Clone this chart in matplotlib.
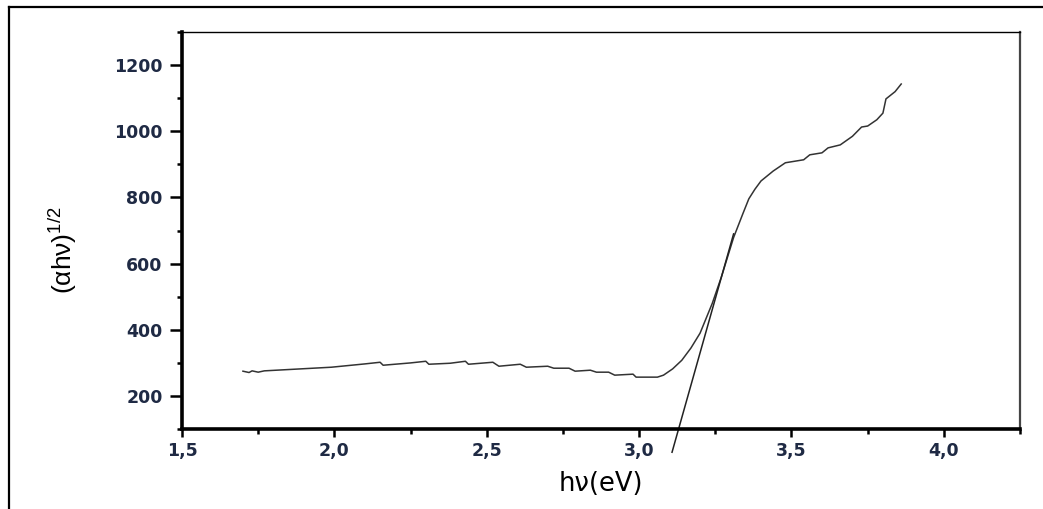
import matplotlib
matplotlib.use('Agg')
import matplotlib.pyplot as plt
from matplotlib.lines import Line2D
from matplotlib.ticker import MultipleLocator, FuncFormatter

# curve: photon energy (eV) vs (alpha*h*nu)^1/2
energy = [1.70, 1.72, 1.73, 1.75, 1.77, 1.85, 1.99, 2.10, 2.15, 2.16, 2.25, 2.30, 2.31,
          2.38, 2.43, 2.44, 2.52, 2.54, 2.61, 2.63, 2.70, 2.72, 2.77, 2.79, 2.84, 2.86,
          2.90, 2.92, 2.98, 2.99, 3.06, 3.08, 3.11, 3.14, 3.17, 3.20, 3.24, 3.27, 3.31,
          3.34, 3.36, 3.38, 3.40, 3.44, 3.48, 3.54, 3.56, 3.60, 3.62, 3.66, 3.70, 3.73,
          3.75, 3.78, 3.80, 3.81, 3.84, 3.86]
ahv = [275, 271, 276, 272, 276, 280, 287, 297, 302, 293, 300, 305, 296,
       299, 305, 296, 302, 290, 296, 287, 290, 284, 284, 275, 278, 272,
       272, 263, 266, 257, 257, 263, 282, 308, 345, 390, 480, 560, 679,
       750, 796, 825, 850, 880, 905, 914, 929, 935, 950, 959, 985, 1013,
       1016, 1035, 1055, 1098, 1120, 1143]

# linear extrapolation line (band gap fit)
fit_x = [3.108, 3.31]
fit_y = [30, 690]

plt.rcParams['mathtext.fontset'] = 'custom'
plt.rcParams['mathtext.rm'] = 'Liberation Sans'

fig = plt.figure(figsize=(10.43, 5.09), dpi=100)
ax = fig.add_axes([0.1745, 0.157, 0.8035, 0.78])

ax.plot(energy, ahv, color='#333333', lw=1.1)
ax.plot(fit_x, fit_y, color='#222222', lw=1.1, clip_on=False)

ax.set_xlim(1.5, 4.25)
ax.set_ylim(100, 1300)
ax.xaxis.set_major_locator(MultipleLocator(0.5))
ax.xaxis.set_minor_locator(MultipleLocator(0.25))
ax.yaxis.set_major_locator(MultipleLocator(200))
ax.yaxis.set_minor_locator(MultipleLocator(100))
ax.xaxis.set_major_formatter(FuncFormatter(lambda v, p: ('%.1f' % v).replace('.', ',')))

for s in ['left', 'bottom']:
    ax.spines[s].set_linewidth(2.6)
ax.spines['top'].set_linewidth(1.0)
ax.spines['right'].set_linewidth(1.6)
ax.spines['right'].set_color('#444444')

ax.tick_params(which='major', direction='out', width=1.8,
               labelsize=12.5, labelcolor='#1f2a44')
ax.tick_params(axis='y', which='major', length=9, pad=5)
ax.tick_params(axis='x', which='major', length=6, pad=3)
ax.tick_params(which='minor', direction='out', length=3.5, width=1.8)
for lab in ax.get_xticklabels() + ax.get_yticklabels():
    lab.set_fontweight('bold')
    lab.set_family('DejaVu Sans')

ax.set_xlabel('hν(eV)', fontsize=18.5, family='DejaVu Sans', labelpad=8)
ax.set_ylabel('(αhν)' + r'$^{\mathrm{1/2}}$', fontsize=19, family='Liberation Sans')
ax.yaxis.label.set_verticalalignment('center')
ax.yaxis.set_label_coords(-0.143, 0.45)

# outer frame around the picture
fig.add_artist(Line2D([9 / 1043, 9 / 1043], [0, 1 - 7 / 509], color='black', lw=1.6))
fig.add_artist(Line2D([9 / 1043, 1], [1 - 7 / 509, 1 - 7 / 509], color='black', lw=1.6))

fig.savefig('out.png', dpi=100)
